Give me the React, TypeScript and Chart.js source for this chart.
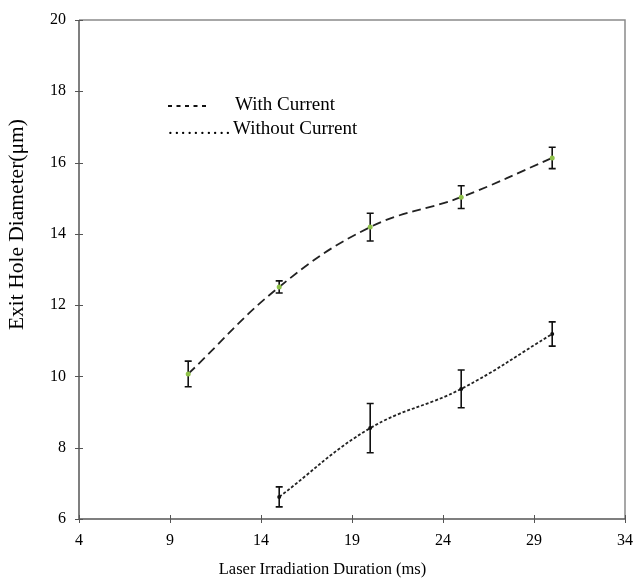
import React, { useEffect, useRef } from "react";
import { Chart, registerables } from "chart.js";

Chart.register(...registerables);

// ---- data ----
const durationsWith = [10, 15, 20, 25, 30];
const withCurrent = [10.07, 12.51, 14.19, 15.03, 16.13];
const withCurrentErr = [0.36, 0.17, 0.39, 0.32, 0.3];

const durationsWithout = [15, 20, 25, 30];
const withoutCurrent = [6.62, 8.55, 9.65, 11.19];
const withoutCurrentErr = [0.28, 0.69, 0.53, 0.34];

const xTickValues = [4, 9, 14, 19, 24, 29, 34];
const yTickValues = [6, 8, 10, 12, 14, 16, 18, 20];

const xTitle = "Laser Irradiation Duration (ms)";
const yTitle = "Exit Hole Diameter(\u03bcm)";
const legendWith = "With Current";
const legendWithout = "Without Current";

const FONT = "'Liberation Serif', 'Times New Roman', serif";

const errors = [withCurrentErr, withoutCurrentErr];

const decorPlugin = {
  id: "decor",
  beforeDatasetsDraw(chart: any) {
    const { ctx, scales } = chart;
    const xs = scales.x;
    const ys = scales.y;
    ctx.save();
    // error bars
    ctx.strokeStyle = "#111";
    ctx.lineWidth = 1.6;
    ctx.setLineDash([]);
    chart.data.datasets.forEach((ds: any, di: number) => {
      const errs = errors[di];
      ds.data.forEach((pt: any, i: number) => {
        const px = xs.getPixelForValue(pt.x);
        const top = ys.getPixelForValue(pt.y + errs[i]);
        const bot = ys.getPixelForValue(pt.y - errs[i]);
        ctx.beginPath();
        ctx.moveTo(px, top);
        ctx.lineTo(px, bot);
        ctx.moveTo(px - 3.5, top);
        ctx.lineTo(px + 3.5, top);
        ctx.moveTo(px - 3.5, bot);
        ctx.lineTo(px + 3.5, bot);
        ctx.stroke();
      });
    });
    ctx.restore();
  },
  afterDraw(chart: any) {
    const { ctx, chartArea, scales } = chart;
    const xs = scales.x;
    const ys = scales.y;
    const { left, right, top, bottom } = chartArea;
    ctx.save();
    ctx.setLineDash([]);
    // frame
    ctx.lineWidth = 1.5;
    ctx.strokeStyle = "#8a8a8a";
    ctx.beginPath();
    ctx.moveTo(left, top);
    ctx.lineTo(right, top);
    ctx.lineTo(right, bottom);
    ctx.stroke();
    ctx.strokeStyle = "#555";
    ctx.beginPath();
    ctx.moveTo(left, top);
    ctx.lineTo(left, bottom);
    ctx.lineTo(right, bottom);
    ctx.stroke();
    // crossing ticks
    ctx.lineWidth = 1;
    ctx.beginPath();
    xTickValues.forEach((v) => {
      const px = Math.round(xs.getPixelForValue(v)) + 0.5;
      ctx.moveTo(px, bottom - 4);
      ctx.lineTo(px, bottom + 4);
    });
    yTickValues.forEach((v) => {
      const py = Math.round(ys.getPixelForValue(v)) + 0.5;
      ctx.moveTo(left - 4, py);
      ctx.lineTo(left + 4, py);
    });
    ctx.stroke();

    // axis titles
    ctx.fillStyle = "#000";
    ctx.textBaseline = "middle";
    ctx.textAlign = "center";
    ctx.font = `16.5px ${FONT}`;
    ctx.fillText(xTitle, left + (right - left) * 0.446, bottom + 51);
    ctx.save();
    ctx.translate(17, top + (bottom - top) * 0.41);
    ctx.rotate(-Math.PI / 2);
    ctx.font = `21.5px ${FONT}`;
    ctx.fillText(yTitle, 0, 0);
    ctx.restore();

    // legend
    ctx.textAlign = "left";
    ctx.font = `19px ${FONT}`;
    const lx = left + 89;
    const ly1 = top + 85;
    const ly2 = top + 109;
    ctx.strokeStyle = "#111";
    ctx.lineWidth = 2;
    ctx.beginPath();
    for (let i = 0; i < 5; i++) {
      ctx.moveTo(lx + i * 8.5, ly1 + 1);
      ctx.lineTo(lx + i * 8.5 + 4, ly1 + 1);
    }
    ctx.stroke();
    ctx.fillText(legendWith, lx + 67, ly1);
    for (let i = 0; i < 10; i++) {
      ctx.fillText(".", lx + i * 6.4, ly2);
    }
    ctx.fillText(legendWithout, lx + 65, ly2);
    ctx.restore();
  },
};

export default function App() {
  const ref = useRef<HTMLCanvasElement | null>(null);
  useEffect(() => {
    document.body.style.margin = "0";
    const canvas = ref.current;
    if (!canvas) return;
    const chart = new Chart(canvas, {
      type: "scatter",
      data: {
        datasets: [
          {
            label: legendWith,
            data: durationsWith.map((x, i) => ({ x, y: withCurrent[i] })),
            showLine: true,
            borderColor: "#222",
            borderWidth: 1.8,
            borderDash: [9, 5],
            tension: 0.4,
            pointRadius: 2.5,
            pointBackgroundColor: "#8fc24a",
            pointBorderWidth: 0,
            fill: false,
          },
          {
            label: legendWithout,
            data: durationsWithout.map((x, i) => ({ x, y: withoutCurrent[i] })),
            showLine: true,
            borderColor: "#222",
            borderWidth: 1.8,
            borderDash: [3, 2],
            tension: 0.4,
            pointRadius: 2,
            pointBackgroundColor: "#111",
            pointBorderWidth: 0,
            fill: false,
          },
        ],
      },
      options: {
        responsive: false,
        animation: false,
        devicePixelRatio: 1,
        layout: { padding: { top: 20, right: 16, bottom: 0, left: 0 } },
        plugins: {
          legend: { display: false },
          tooltip: { enabled: false },
        },
        scales: {
          x: {
            type: "linear",
            min: 4,
            max: 34,
            afterBuildTicks: (s: any) => {
              s.ticks = xTickValues.map((v) => ({ value: v }));
            },
            afterFit: (s: any) => {
              s.height = 63;
            },
            grid: { display: false },
            border: { display: false },
            ticks: {
              color: "#000",
              font: { family: FONT, size: 16 },
              padding: 4,
              maxRotation: 0,
            },
          },
          y: {
            type: "linear",
            min: 6,
            max: 20,
            afterBuildTicks: (s: any) => {
              s.ticks = yTickValues.map((v) => ({ value: v }));
            },
            afterFit: (s: any) => {
              s.width = 79;
            },
            grid: { display: false },
            border: { display: false },
            ticks: {
              color: "#000",
              font: { family: FONT, size: 16 },
              padding: 5,
            },
          },
        },
      },
      plugins: [decorPlugin],
    });
    return () => chart.destroy();
  }, []);
  return (
    <div style={{ width: 641, height: 582 }}>
      <canvas ref={ref} width={641} height={582} style={{ display: "block" }} />
    </div>
  );
}
